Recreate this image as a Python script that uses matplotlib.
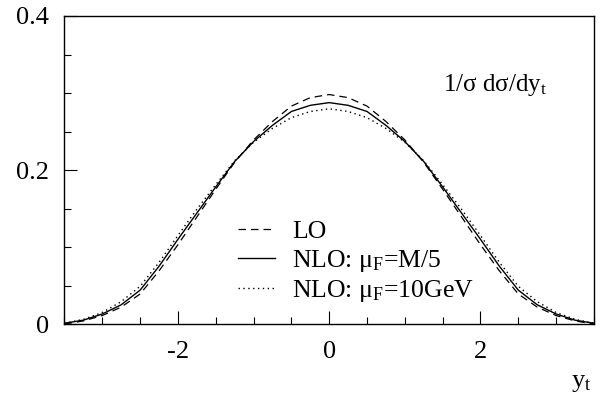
import matplotlib
matplotlib.use("Agg")
import matplotlib.pyplot as plt
from matplotlib.ticker import MultipleLocator

plt.rcParams['font.family'] = ['Liberation Serif', 'DejaVu Serif']
plt.rcParams['mathtext.fontset'] = 'custom'
plt.rcParams['mathtext.rm'] = 'Liberation Serif'
plt.rcParams['mathtext.it'] = 'Liberation Serif'

# top-quark rapidity grid and normalised distributions
y_t = [-3.5, -3.25, -3.0, -2.75, -2.5, -2.25, -2.0, -1.75, -1.5, -1.25, -1.0, -0.75, -0.5, -0.25,
       0.0, 0.25, 0.5, 0.75, 1.0, 1.25, 1.5, 1.75, 2.0, 2.25, 2.5, 2.75, 3.0, 3.25, 3.5]

lo = [0.000, 0.004, 0.011, 0.022, 0.039, 0.069, 0.103, 0.139, 0.175, 0.210, 0.239, 0.263, 0.283, 0.294,
      0.298, 0.294, 0.283, 0.263, 0.239, 0.210, 0.175, 0.139, 0.103, 0.069, 0.039, 0.022, 0.011, 0.004, 0.000]

nlo_m5 = [0.001, 0.005, 0.013, 0.025, 0.044, 0.075, 0.110, 0.144, 0.178, 0.211, 0.237, 0.258, 0.276, 0.284,
          0.2875, 0.284, 0.276, 0.258, 0.237, 0.211, 0.178, 0.144, 0.110, 0.075, 0.044, 0.025, 0.013, 0.005, 0.001]

nlo_10 = [0.001, 0.006, 0.015, 0.029, 0.049, 0.080, 0.115, 0.149, 0.181, 0.212, 0.236, 0.254, 0.268, 0.276,
          0.2795, 0.276, 0.268, 0.254, 0.236, 0.212, 0.181, 0.149, 0.115, 0.080, 0.049, 0.029, 0.015, 0.006, 0.001]

fig = plt.figure(figsize=(6.06, 3.95), dpi=100)
ax = fig.add_axes([0.1064, 0.1797, 0.8737, 0.7798])

ax.plot(y_t, lo, color='black', lw=0.9, linestyle=(0, (6, 4)), label='LO')
ax.plot(y_t, nlo_m5, color='black', lw=1.0, label=r'NLO: $\mathregular{\mu_F}$=M/5')
ax.plot(y_t, nlo_10, color='black', lw=1.0, linestyle=(0, (1, 2.5)), label=r'NLO: $\mathregular{\mu_F}$=10GeV')

ax.set_xlim(-3.5, 3.5)
ax.set_ylim(0, 0.4)

ax.xaxis.set_minor_locator(MultipleLocator(0.5))
ax.yaxis.set_minor_locator(MultipleLocator(0.05))
ax.set_yticks([0, 0.2, 0.4])
ax.set_yticklabels(['0', '0.2', '0.4'])
ax.set_xticks([-2, 0, 2])
ax.set_xticklabels(['-2', '0', '2'])

ax.tick_params(which='both', direction='in', top=False, right=False, labelsize=19, width=0.8)
ax.tick_params(which='major', length=9.5)
ax.tick_params(axis='y', which='major', pad=11)
ax.tick_params(axis='x', which='major', pad=12)
ax.tick_params(which='minor', length=5)
for side in ax.spines.values():
    side.set_linewidth(1.0)

ax.text(0.715, 0.756, r'$\mathregular{1/\sigma\ d\sigma/dy_t}$', transform=ax.transAxes,
        fontsize=18, ha='left', va='baseline')
ax.text(0.975, -0.205, r'$\mathregular{y_t}$', transform=ax.transAxes,
        fontsize=19, ha='center', va='baseline')

ax.legend(loc='upper left', bbox_to_anchor=(0.328, 0.338), frameon=False, fontsize=18.5,
          handlelength=1.45, handletextpad=0.66, labelspacing=0.18, borderpad=0, borderaxespad=0)

fig.savefig('out.png', dpi=100)
